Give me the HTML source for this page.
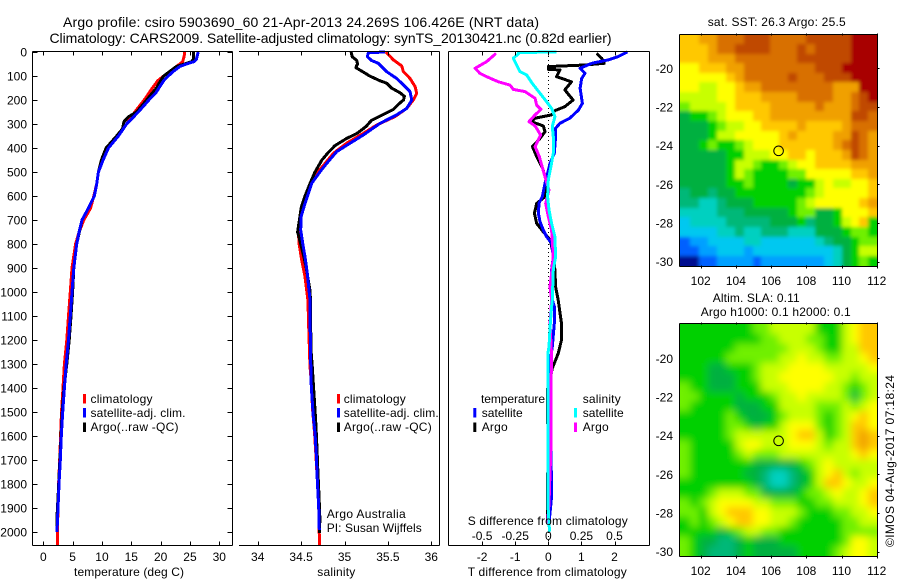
<!DOCTYPE html>
<html>
<head>
<meta charset="utf-8">
<title>Argo profile</title>
<style>
html,body{margin:0;padding:0;background:#fff}
svg{display:block}
text{font-family:"Liberation Sans",sans-serif;font-size:12px;fill:#000}
.t14{font-size:14px}
</style>
</head>
<body>
<svg id="fig" xmlns="http://www.w3.org/2000/svg" width="900" height="580" viewBox="0 0 900 580">
<defs>
<filter id="blur-sst" filterUnits="userSpaceOnUse" x="640" y="0" width="260" height="300"><feGaussianBlur stdDeviation="1.8"/></filter>
<filter id="blur-sla" filterUnits="userSpaceOnUse" x="640" y="290" width="260" height="290"><feGaussianBlur stdDeviation="4"/></filter>
<clipPath id="clip-sst"><rect x="680" y="35" width="197.5" height="231.5"/></clipPath>
<clipPath id="clip-sla"><rect x="680" y="324" width="197.5" height="232.5"/></clipPath>
</defs>
<rect x="0" y="0" width="900" height="580" fill="#fff"/>
<text class="t14" x="63" y="27" textLength="476" lengthAdjust="spacing">Argo profile: csiro 5903690_60 21-Apr-2013 24.269S 106.426E (NRT data)</text>
<text class="t14" x="49.5" y="43" textLength="562" lengthAdjust="spacing">Climatology: CARS2009. Satellite-adjusted climatology: synTS_20130421.nc (0.82d earlier)</text>

<g id="map1">
<g clip-path="url(#clip-sst)"><g id="map1-cells" filter="url(#blur-sst)"></g></g>
</g>
<g id="map2">
<g clip-path="url(#clip-sla)"><g id="map2-cells" filter="url(#blur-sla)"></g></g>
</g>
<g id="p1"></g>
<g id="p2"></g>
<g id="p3"></g>

<g>
<rect x="83" y="394" width="3" height="9.5" fill="#f00"/>
<rect x="83" y="408" width="3" height="9.5" fill="#00f"/>
<rect x="83" y="422.5" width="3" height="9.5" fill="#000"/>
<text x="90.5" y="403" textLength="62" lengthAdjust="spacing">climatology</text>
<text x="90.5" y="417" textLength="95" lengthAdjust="spacing">satellite-adj. clim.</text>
<text x="90.5" y="431" textLength="88" lengthAdjust="spacing">Argo(..raw -QC)</text>
</g>
<g>
<rect x="337" y="394" width="3" height="9.5" fill="#f00"/>
<rect x="337" y="408" width="3" height="9.5" fill="#00f"/>
<rect x="337" y="422.5" width="3" height="9.5" fill="#000"/>
<text x="343.7" y="403" textLength="62" lengthAdjust="spacing">climatology</text>
<text x="343.7" y="417" textLength="95" lengthAdjust="spacing">satellite-adj. clim.</text>
<text x="343.7" y="431" textLength="88" lengthAdjust="spacing">Argo(..raw -QC)</text>
</g>
<text x="326.7" y="518" textLength="79" lengthAdjust="spacing">Argo Australia</text>
<text x="326.7" y="532" textLength="95" lengthAdjust="spacing">PI: Susan Wijffels</text>

<g>
<text x="481" y="403" textLength="64" lengthAdjust="spacing">temperature</text>
<rect x="473.3" y="408" width="3" height="9.5" fill="#00f"/>
<text x="481.7" y="417" textLength="41" lengthAdjust="spacing">satellite</text>
<rect x="473.3" y="422.5" width="3" height="9.5" fill="#000"/>
<text x="481.7" y="431" textLength="26" lengthAdjust="spacing">Argo</text>
<text x="582.7" y="403" textLength="38" lengthAdjust="spacing">salinity</text>
<rect x="574" y="408" width="3" height="9.5" fill="#0ff"/>
<text x="582.7" y="417" textLength="41" lengthAdjust="spacing">satellite</text>
<rect x="574" y="422.5" width="3" height="9.5" fill="#f0f"/>
<text x="582.7" y="431" textLength="26" lengthAdjust="spacing">Argo</text>
</g>

<text x="467.7" y="525" textLength="160" lengthAdjust="spacing">S difference from climatology</text>
<text x="467.7" y="576" textLength="159" lengthAdjust="spacing">T difference from climatology</text>
<text x="74" y="576" textLength="110" lengthAdjust="spacing">temperature (deg C)</text>
<text x="317.3" y="576" textLength="38" lengthAdjust="spacing">salinity</text>

<text x="707.7" y="26" textLength="138" lengthAdjust="spacing">sat. SST: 26.3 Argo: 25.5</text>
<text x="712.7" y="302" textLength="87" lengthAdjust="spacing">Altim. SLA: 0.11</text>
<text x="700.7" y="316" textLength="150" lengthAdjust="spacing">Argo h1000: 0.1 h2000: 0.1</text>
<text transform="translate(894,547) rotate(-90)" x="0" y="0" textLength="172" lengthAdjust="spacing">©IMOS 04-Aug-2017 07:18:24</text>
</svg>
<script>
/* ---------- data: depth axis ---------- */
const depthTicks = [0,100,200,300,400,500,600,700,800,900,1000,1100,1200,1300,1400,1500,1600,1700,1800,1900,2000];

/* ---------- data: temperature profiles ---------- */
const tempTicks = [0,5,10,15,20,25,30];
const climTempDepth = [0,20,40,50,60,80,100,120,150,200,250,300,350,400,450,500,550,600,650,700,750,800,900,1000,1100,1200,1300,1400,1500,1600,1700,1800,1900,2000,2056];
const climTemp = [24.1,24,23.75,23.3,22.7,21.6,20.5,19.5,18.6,17.2,15.6,14.2,12.8,10.9,9.9,9.4,9.1,8.6,8.07,6.9,6.1,5.5,4.9,4.6,4.3,4,3.6,3.35,3.1,2.95,2.8,2.6,2.5,2.4,2.41];
const argoTempDepth = [0,30,40,50,60,80,100,120,150,200,250,270,290,320,350,400,450,500,550,600,650,700,800,900,1000,1100,1200,1300,1400,1470,1550,1650,1750,1850,1930,2000];
const argoTemp = [25.6,25.6,25.3,24.1,22.7,21.6,20.5,20,19.3,17.6,15.9,14.5,13.75,13.5,12.5,10.7,9.9,9.4,9.1,8.7,7.7,6.6,5.7,5.2,5,4.72,4.42,4,3.53,3.3,3.1,2.93,2.72,2.52,2.35,2.33];
const satTempDepth = [0,30,40,50,60,80,100,120,150,170,200,250,300,350,400,450,500,550,600,650,700,750,800,900,1000,1100,1200,1300,1400,1500,1600,1700,1800,1900,2000];
const satTemp = [26.4,26.1,25.7,24.4,23.3,22.2,21.3,20.5,19.7,19.2,18,16.2,14.2,12.8,11.1,10.2,9.4,9.1,8.7,7.7,6.6,6.1,5.7,5.2,4.9,4.6,4.3,3.9,3.6,3.3,3.07,2.9,2.67,2.5,2.33];

/* ---------- data: salinity profiles ---------- */
const salTicks = [34,34.5,35,35.5,36];
const salTickLabels = ['34','34.5','35','35.5','36'];
const climSalDepth = [0,33,58,82,110,144,172,200,235,269,304,339,380,422,464,506,561,631,686,742,797,867,936,1033,1172,1311,1366,1491,1589,1686,1783,1894,2056];
const climSal = [35.478,35.563,35.659,35.678,35.755,35.813,35.832,35.793,35.717,35.582,35.371,35.217,35.025,34.872,34.776,34.68,34.603,34.526,34.488,34.469,34.476,34.507,34.545,34.578,34.59,34.603,34.615,34.633,34.656,34.672,34.687,34.703,34.712];
const argoSalDepth = [0,20,35,50,65,80,100,120,130,150,170,185,200,215,240,260,285,310,340,360,390,420,450,500,550,600,650,700,750,800,850,900,1000,1242,1325,1394,1491,1561,1644,1741,1839,1936,2005];
const argoSal = [35.075,35.09,35.14,35.15,35.13,35.2,35.29,35.41,35.485,35.54,35.64,35.69,35.68,35.63,35.56,35.45,35.31,35.25,35.14,35.025,34.89,34.81,34.74,34.66,34.6,34.545,34.5,34.48,34.46,34.495,34.53,34.56,34.605,34.614,34.631,34.643,34.66,34.672,34.682,34.692,34.705,34.716,34.714];
const satSalDepth = [0,3,19,36,47,82,110,137,165,200,235,262,297,346,380,415,464,499,547,631,686,742,797,853,922,1033,1242,1394,1519,1589,1686,1783,1894,1991];
const satSal = [35.467,35.275,35.263,35.313,35.39,35.486,35.6,35.68,35.755,35.775,35.717,35.6,35.41,35.217,35.064,34.91,34.795,34.718,34.622,34.545,34.5,34.495,34.518,34.545,34.572,34.603,34.607,34.618,34.641,34.66,34.676,34.687,34.703,34.71];

/* ---------- data: differences from climatology ---------- */
const dTTicks = [-2,-1,0,1,2];
const dTTickLabels = ['-2','-1','0','1','2'];
const dSTicks = [-0.5,-0.25,0,0.25,0.5];
const dSTickLabels = ['-0.5','-0.25','0','0.25','0.5'];
const argoDTDepth = [6,26,47,54,61,72,75,103,124,158,200,228,244,262,276,290,308,332,360,394,436,485,533,568,603,631,672,714,749,783,839,908,978,1034,1131,1200,1256,1318,1345,1410,1506,1600,1880,1965];
const argoDT = [1.46,1.61,1.69,1.11,0,0,0.35,0.25,0.7,0.5,0.75,0.5,0.2,0.1,-0.4,-0.52,-0.15,-0.1,-0.25,-0.48,-0.35,-0.17,-0.07,-0.1,-0.1,-0.35,-0.42,-0.35,-0.15,0.05,0.15,0.2,0.22,0.3,0.4,0.4,0.3,0.12,0.08,-0.03,-0.03,0,-0.03,-0.03];
const satDTDepth = [0,19,33,47,68,89,110,151,214,242,276,297,318,353,422,464,506,547,603,631,672,707,742,769,797,853,908,1033,1061,1131,1228,1270,1409,1631,1853,1964];
const satDT = [2.39,2.11,1.81,1.31,0.96,1.11,1.01,0.96,1.03,0.91,0.65,0.35,0.22,0.22,0.18,0.05,-0.02,-0.1,-0.18,-0.28,-0.3,-0.25,-0.15,-0.05,0.1,0.15,0.1,0.12,0.18,0.18,0.12,0.08,0.05,0.08,0.1,0.02];
const argoDSDepth = [6,40,68,89,103,124,138,156,165,193,221,239,262,290,308,346,394,436,485,533,575,631,686,742,853,922,978,1033,1131,1270,1409,1645,1880,1964];
const argoDS = [-0.395,-0.465,-0.553,-0.516,-0.465,-0.377,-0.289,-0.264,-0.176,-0.1,-0.088,-0.055,-0.1,-0.146,-0.1,-0.058,-0.1,-0.068,-0.043,-0.018,0.005,-0.02,0,0.025,0.038,0.025,0.013,0.025,0.013,0.025,0.02,0.02,0.005,-0.005];
const satDSDepth = [0,2,8,26,54,82,96,131,172,207,235,269,311,353,422,478,533,603,658,714,769,853,908,1033,1062,1131,1228,1256,1409,1880,1964,1999];
const satDS = [0.063,-0.226,-0.226,-0.264,-0.239,-0.214,-0.163,-0.121,-0.063,-0.013,0.025,0.05,0.03,0.038,0.038,0.02,0,-0.005,0.005,0.025,0.05,0.055,0.038,0.03,0.025,0.015,0.005,-0.003,-0.003,-0.003,0.005,0.01];

/* ---------- data: maps ---------- */
const lonTicks = [102,104,106,108,110,112];
const latTicks = [-20,-22,-24,-26,-28,-30];
const argoLon = 106.426;
const argoLat = -24.269;
const sstLevels = [
[11,11,12,12,13,13,13,14,14,14,13,13,13,13,14,14,14,14,14,15,15,15],
[11,11,11,12,13,13,14,14,14,14,13,13,13,14,13,14,14,14,14,15,15,15],
[11,11,11,12,12,12,13,13,13,13,13,13,13,14,14,14,14,14,14,15,15,15],
[10,10,11,11,11,12,12,13,13,13,13,13,13,13,13,14,14,14,15,15,15,15],
[10,10,10,10,10,11,12,13,13,13,13,13,14,13,13,13,14,14,14,15,15,15],
[10,10,9,9,10,10,11,12,12,13,13,13,13,13,13,13,13,12,12,12,15,15],
[9,9,9,9,10,10,11,11,11,12,12,12,12,13,13,13,13,12,12,13,14,15],
[8,9,9,9,9,10,11,11,11,11,12,12,12,12,12,13,12,12,12,13,14,14],
[6,7,7,8,9,10,10,10,11,11,12,12,12,12,12,12,12,12,12,14,14,13],
[6,6,6,7,8,9,9,10,10,11,11,11,11,12,11,11,11,11,12,13,13,13],
[6,6,6,7,9,9,10,10,10,10,10,11,12,11,11,11,11,12,12,14,13,12],
[6,6,7,8,7,7,8,9,10,10,10,11,11,11,11,11,11,12,13,14,13,12],
[6,6,6,6,6,7,7,9,9,9,10,10,11,11,10,11,11,11,12,14,13,12],
[6,6,6,6,6,7,9,9,8,7,7,8,9,10,10,11,11,11,11,12,12,12],
[6,6,6,6,6,7,9,8,7,7,7,7,8,8,10,10,10,10,10,11,11,12],
[6,6,6,6,6,7,7,8,7,7,7,7,6,7,7,9,10,9,9,10,10,11],
[5,6,6,5,6,6,7,7,7,7,7,7,7,7,8,9,10,10,10,10,10,11],
[5,5,4,4,5,6,6,6,7,7,7,7,7,8,9,10,10,10,10,10,11,12],
[4,4,4,4,5,5,5,6,6,6,6,6,7,8,8,6,6,7,10,10,10,11],
[3,4,4,4,4,5,5,5,5,5,6,6,6,7,5,6,6,7,9,10,11,7],
[3,3,3,3,4,4,5,4,4,5,5,5,4,4,4,6,6,6,7,8,8,7],
[1,2,2,3,3,3,3,4,4,3,3,3,3,3,3,4,5,6,6,7,8,8],
[1,1,2,2,3,3,3,2,3,3,3,3,3,3,3,3,3,4,6,7,9,9],
[0,0,1,1,2,2,2,2,1,2,2,2,2,2,2,2,3,4,6,7,8,7]
];
const slaLevels = [
[7,7,7,7,7,7,7,7,8,8,9,9,9,9,9,7,7,7,9,10,11,11],
[7,7,7,7,7,7,7,7,7,8,8,9,9,9,8,8,7,7,9,10,11,11],
[7,7,7,7,7,7,8,8,8,8,8,8,9,9,9,8,7,7,9,9,11,11],
[7,7,7,7,7,8,8,8,8,8,8,9,9,10,9,9,8,8,9,9,10,11],
[7,7,7,6,6,7,7,7,8,9,9,9,10,10,10,10,9,9,9,9,9,10],
[7,7,7,6,6,6,7,7,8,9,9,10,10,10,10,10,10,9,9,8,9,9],
[8,7,7,6,6,6,7,7,7,9,9,9,10,10,10,10,9,9,8,7,8,9],
[8,8,7,7,7,7,6,7,7,7,8,9,9,10,9,9,9,9,8,6,8,9],
[8,7,7,7,7,7,6,6,6,7,7,9,9,9,9,8,8,8,9,8,9,10],
[7,7,7,7,7,8,7,6,6,6,7,8,9,9,9,8,7,8,9,10,11,10],
[7,7,7,7,7,8,8,7,6,7,7,9,10,10,10,8,7,8,9,11,11,10],
[7,7,7,7,7,8,9,9,9,9,9,9,10,11,11,9,7,8,9,11,12,11],
[8,7,7,7,7,7,9,10,10,9,9,9,10,10,10,9,8,9,9,11,12,11],
[8,7,7,7,7,7,8,9,8,8,8,9,9,9,9,9,9,9,9,10,11,10],
[8,7,7,7,7,7,7,7,6,6,6,6,6,7,8,9,10,9,9,9,9,9],
[8,7,7,7,7,7,7,6,6,5,4,4,5,6,7,9,10,11,9,8,9,9],
[7,7,7,7,7,7,7,7,6,5,4,4,5,6,7,9,11,11,10,9,9,10],
[7,7,7,8,9,9,9,8,8,6,6,6,6,7,8,8,9,10,9,9,10,11],
[8,7,8,9,10,10,10,10,9,9,8,8,8,7,7,8,8,9,9,9,10,11],
[8,8,7,9,10,11,11,11,10,10,9,9,9,8,7,7,7,8,8,9,9,10],
[7,8,7,8,9,10,11,11,10,10,9,9,8,7,7,7,7,7,8,8,9,9],
[7,7,7,7,6,7,8,9,9,8,8,7,7,7,7,7,7,7,8,8,8,8],
[8,7,6,6,5,5,6,7,6,6,6,7,7,7,7,7,7,7,8,10,10,9],
[8,7,6,5,5,5,6,7,6,6,6,6,6,7,7,7,7,8,9,10,10,9]
];

/* ---------- style & geometry ---------- */
const NS = 'http://www.w3.org/2000/svg';
const levelColors = ['#00108f','#0060ff','#00a0ff','#00c8f0','#00d0c0','#00b878','#00b040','#00d000','#70f000','#c8ff00','#ffff00','#ffc800','#f0a000','#d87000','#c04800','#a80000'];
const depthY = d => 52 + 0.24 * d;
const tempX = t => 43.3 + 5.867 * t;
const salX = s => 257.7 + 86.8 * (s - 34);
const dTX = v => 548.3 + 33.1 * v;
const dSX = v => 548.3 + 132.4 * v;
const lonX = lon => 700.7 + 17.6 * (lon - 102);

function node(parent, tag, attrs) {
  const el = document.createElementNS(NS, tag);
  for (const k in attrs) el.setAttribute(k, attrs[k]);
  parent.appendChild(el);
  return el;
}
function axisLine(parent, name, x1, y1, x2, y2) {
  const el = node(parent, 'line', {x1:x1, y1:y1, x2:x2, y2:y2, stroke:'#000', 'stroke-width':1, 'shape-rendering':'crispEdges'});
  
  
  return el;
}
function label(parent, name, x, y, anchor, str) {
  const el = node(parent, 'text', {x:x, y:y, 'text-anchor':anchor});
  el.textContent = str;
  
  
  return el;
}
function profile(parent, name, color, depths, values, xFn) {
  const pts = depths.map((d, i) => xFn(values[i]).toFixed(1) + ',' + depthY(d).toFixed(1)).join(' ');
  const el = node(parent, 'polyline', {points:pts, fill:'none', stroke:color, 'stroke-width':3, 'stroke-linejoin':'round', 'shape-rendering':'crispEdges'});
  
  
  return el;
}
function profileAxes(g, left, right, hasLeftAxis, hasRightAxis, xTicks, xFn, xLabels) {
  const top = 51.5, bottom = 545.5;
  axisLine(g, 'top-axis', left, top, right, top);
  axisLine(g, 'bottom-axis', left, bottom, right, bottom);
  if (hasLeftAxis) axisLine(g, 'left-axis', left, top, left, bottom);
  if (hasRightAxis) axisLine(g, 'right-axis', right, top, right, bottom);
  xTicks.forEach((v, i) => {
    const x = Math.round(xFn(v)) + 0.5;
    axisLine(g, 'x-tick-top', x, top, x, top + 4);
    axisLine(g, 'x-tick-bottom', x, bottom, x, bottom - 4);
    label(g, 'x-tick-label', xFn(v), 561, 'middle', xLabels[i]);
  });
}

/* ---------- panel 1: temperature ---------- */
const p1 = document.getElementById('p1');
profile(p1, 'climatology-temperature-line', '#f00', climTempDepth, climTemp, tempX);
profile(p1, 'argo-temperature-line', '#000', argoTempDepth, argoTemp, tempX);
profile(p1, 'satellite-temperature-line', '#00f', satTempDepth, satTemp, tempX);
profileAxes(p1, 32.5, 232.5, true, true, tempTicks, tempX, tempTicks.map(String));
depthTicks.forEach(d => {
  const y = Math.round(depthY(d)) + 0.5;
  axisLine(p1, 'depth-tick-left', 32.5, y, 37.5, y);
  axisLine(p1, 'depth-tick-right', 232.5, y, 227.5, y);
  label(p1, 'depth-tick-label', 27, depthY(d) + 4.5, 'end', String(d));
});

/* ---------- panel 2: salinity ---------- */
const p2 = document.getElementById('p2');
profile(p2, 'climatology-salinity-line', '#f00', climSalDepth, climSal, salX);
profile(p2, 'argo-salinity-line', '#000', argoSalDepth, argoSal, salX);
profile(p2, 'satellite-salinity-line', '#00f', satSalDepth, satSal, salX);
profileAxes(p2, 239, 439.5, false, true, salTicks, salX, salTickLabels);

/* ---------- panel 3: differences ---------- */
const p3 = document.getElementById('p3');
const zeroLine = node(p3, 'line', {x1:548.5, y1:52, x2:548.5, y2:545, stroke:'#000', 'stroke-width':1, 'stroke-dasharray':'1 3', 'shape-rendering':'crispEdges'});


profile(p3, 'argo-temperature-difference-line', '#000', argoDTDepth, argoDT, dTX);
profile(p3, 'satellite-temperature-difference-line', '#00f', satDTDepth, satDT, dTX);
profile(p3, 'argo-salinity-difference-line', '#f0f', argoDSDepth, argoDS, dSX);
profile(p3, 'satellite-salinity-difference-line', '#0ff', satDSDepth, satDS, dSX);
profileAxes(p3, 448.5, 649.5, true, true, dTTicks, dTX, dTTickLabels);
dSTicks.forEach((v, i) => {
  label(p3, 's-tick-label', dSX(v), 540, 'middle', dSTickLabels[i]);
});

/* ---------- maps ---------- */
function drawMap(g, cellsG, levels, cfg) {
  const latY = lat => cfg.y20 + 19.33 * (-20 - lat);
  const rows = levels.length, cols = levels[0].length;
  const lon0 = 100.9, dLon = 11.13 / cols;
  const dLat = (cfg.latTop - cfg.latBottom) / rows;
  const bleed = 14;
  levels.forEach((row, r) => {
    row.forEach((v, c) => {
      const x1 = Math.round(lonX(lon0 + c * dLon)) - (c === 0 ? bleed : 0);
      const x2 = Math.round(lonX(lon0 + (c + 1) * dLon)) + (c === cols - 1 ? bleed : 0);
      const y1 = Math.round(latY(cfg.latTop - r * dLat)) - (r === 0 ? bleed : 0);
      const y2 = Math.round(latY(cfg.latTop - (r + 1) * dLat)) + (r === rows - 1 ? bleed : 0);
      const cell = node(cellsG, 'rect', {x:x1, y:y1, width:x2 - x1, height:y2 - y1, fill:levelColors[v], 'shape-rendering':'crispEdges'});
      
      
    });
  });
  const L = 679.5, R = 877.5, T = cfg.top, B = cfg.bottom;
  axisLine(g, 'map-top-axis', L, T, R, T);
  axisLine(g, 'map-bottom-axis', L, B, R, B);
  axisLine(g, 'map-left-axis', L, T, L, B);
  axisLine(g, 'map-right-axis', R, T, R, B);
  lonTicks.forEach(lon => {
    const x = Math.round(lonX(lon)) + 0.5;
    axisLine(g, 'map-lon-tick', x, T - 1, x, T + 1);
    axisLine(g, 'map-lon-tick', x, B - 1, x, B + 2);
    label(g, 'map-lon-label', lonX(lon), cfg.labelY, 'middle', String(lon));
  });
  latTicks.forEach(lat => {
    const y = Math.round(latY(lat)) + 0.5;
    axisLine(g, 'map-lat-tick', R, y, R + 2, y);
    label(g, 'map-lat-label', 673, latY(lat) + 4.5, 'end', String(lat));
  });
  const marker = node(g, 'circle', {cx:lonX(argoLon), cy:latY(argoLat), r:4.8, fill:'none', stroke:'#000', 'stroke-width':1});
  
  
}
drawMap(document.getElementById('map1'), document.getElementById('map1-cells'), sstLevels, {y20:68.3, top:34.5, bottom:266.5, labelY:285, latTop:-18.24, latBottom:-30.2});
drawMap(document.getElementById('map2'), document.getElementById('map2-cells'), slaLevels, {y20:358.3, top:323.5, bottom:556.5, labelY:575, latTop:-18.24, latBottom:-30.2});
</script>
</body>
</html>
